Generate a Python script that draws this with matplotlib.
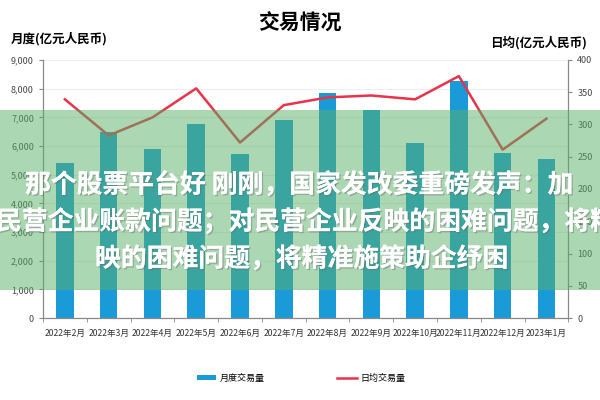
import matplotlib
matplotlib.use('Agg')
import matplotlib.pyplot as plt
import matplotlib.patheffects as pe
from matplotlib.patches import Rectangle
import numpy as np

plt.rcParams['font.family'] = ['Noto Sans CJK SC', 'DejaVu Sans']

months = ['2022年2月', '2022年3月', '2022年4月', '2022年5月', '2022年6月', '2022年7月',
          '2022年8月', '2022年9月', '2022年10月', '2022年11月', '2022年12月', '2023年1月']
monthly_volume = [5420, 6480, 5900, 6770, 5720, 6900, 7850, 7250, 6090, 8270, 5760, 5540]  # 亿元
daily_avg = [339, 283, 311, 356, 272, 330, 342, 345, 339, 375, 261, 309]  # 亿元

overlay_lines = ['那个股票平台好 刚刚，国家发改委重磅发声：加',
                 '民营企业账款问题；对民营企业反映的困难问题，将精',
                 '映的困难问题，将精准施策助企纾困']

blue = '#1a9ad6'
red = '#e8334a'
gray = '#888888'


def main():
    fig = plt.figure(figsize=(6, 4), dpi=100)
    ax = fig.add_axes([0.0717, 0.205, 0.8755, 0.645])
    ax2 = ax.twinx()

    x = np.arange(len(months))
    ax.bar(x, monthly_volume, width=0.4, color=blue, zorder=2, label='月度交易量')
    ax2.plot(x, daily_avg, color=red, lw=1.8, zorder=3, label='日均交易量')

    ax.set_xlim(-0.5, len(months) - 0.5)
    ax.set_ylim(0, 9000)
    ax2.set_ylim(0, 400)
    ax.set_yticks(np.arange(0, 9001, 1000))
    ax.set_yticklabels([f'{v:,}' for v in range(0, 9001, 1000)])
    ax2.set_yticks(np.arange(0, 401, 50))
    ax.set_xticks(x)
    ax.set_xticklabels(months)
    ax.set_xticks(np.arange(-0.5, len(months), 1), minor=True)
    ax.tick_params(axis='x', which='major', length=0, labelsize=6.2, colors='#333333', pad=8)
    ax.tick_params(axis='x', which='minor', length=3, color=gray)
    ax.tick_params(axis='y', length=3, color=gray, labelsize=6.5, labelcolor='#444444')
    ax2.tick_params(axis='y', length=3, color=gray, labelsize=6.5, labelcolor='#444444')

    ax.grid(axis='y', color='#eeeeee', lw=0.8, zorder=0)
    ax.set_axisbelow(True)
    for a in (ax, ax2):
        a.spines['top'].set_visible(False)
        for s in ('left', 'right', 'bottom'):
            a.spines[s].set_color(gray)
            a.spines[s].set_linewidth(0.8)

    fig.text(0.5, 0.942, '交易情况', ha='center', va='center', fontsize=15, fontweight='bold')
    fig.text(0.018, 0.903, '月度(亿元人民币)', ha='left', va='center', fontsize=9, fontweight='bold')
    fig.text(0.978, 0.893, '日均(亿元人民币)', ha='right', va='center', fontsize=9, fontweight='bold')

    # legend
    h1, l1 = ax.get_legend_handles_labels()
    h2, l2 = ax2.get_legend_handles_labels()
    fig.legend(h1 + h2, l1 + l2, loc='center', bbox_to_anchor=(0.502, 0.055), ncol=2,
               frameon=False, fontsize=6.5, handlelength=2.2, handleheight=0.6,
               handletextpad=0.4, columnspacing=8)

    # watermark band
    fig.patches.append(Rectangle((0, 1 - 290 / 400), 1, 180 / 400, transform=fig.transFigure,
                                 facecolor='#58b068', alpha=0.5, edgecolor='none', zorder=5))
    effects = [pe.withSimplePatchShadow(offset=(1, -1), shadow_rgbFace='#666666', alpha=0.4),
               pe.Normal()]
    fig.text(25 / 600, 1 - 185 / 400, overlay_lines[0], ha='left', va='center', fontsize=18.6,
             fontweight='bold', color='white', zorder=6, path_effects=effects)
    fig.text(-4 / 600, 1 - 222 / 400, overlay_lines[1], ha='left', va='center', fontsize=18.6,
             fontweight='bold', color='white', zorder=6, path_effects=effects)
    fig.text(95 / 600, 1 - 259 / 400, overlay_lines[2], ha='left', va='center', fontsize=18.6,
             fontweight='bold', color='white', zorder=6, path_effects=effects)

    fig.savefig('out.png', dpi=100)


if __name__ == '__main__':
    main()
